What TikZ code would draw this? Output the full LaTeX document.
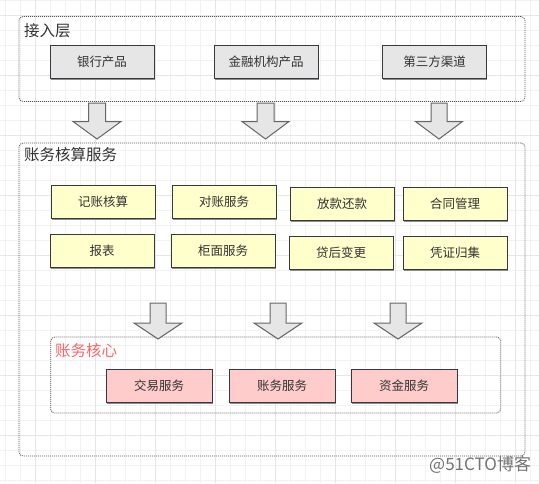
\documentclass[tikz,border=0pt]{standalone}
\usepackage{fontspec}
\setmainfont{Noto Sans CJK SC}
\usetikzlibrary{shadows}
\definecolor{gridminor}{HTML}{F2F2F2}
\definecolor{gridmajor}{HTML}{E6E6E6}
\definecolor{txt}{HTML}{333333}
\definecolor{bord}{HTML}{36393D}
\definecolor{grayfill}{HTML}{E6E6E6}
\definecolor{yellowfill}{HTML}{FFFFCC}
\definecolor{pinkfill}{HTML}{FFCCCC}
\definecolor{redtxt}{HTML}{FF6666}
\definecolor{arrbord}{HTML}{666666}
\definecolor{contbord}{HTML}{555555}
\tikzset{
  container/.style={draw=contbord, line width=0.8pt, dash pattern=on 1pt off 1pt, rounded corners=4pt, inner sep=0pt},
  boxbase/.style={draw=bord, line width=1pt, minimum width=104pt, minimum height=33pt, inner sep=0pt, font=\fontsize{12.5}{14}\selectfont, text=txt,
    drop shadow={shadow xshift=0.6pt, shadow yshift=-2pt, fill=black!45, opacity=1}},
  graybox/.style={boxbase, fill=grayfill},
  yellowbox/.style={boxbase, fill=yellowfill},
  pinkbox/.style={boxbase, fill=pinkfill, minimum width=106pt},
  title/.style={anchor=west, inner sep=0pt, font=\fontsize{15.5}{18}\selectfont, text=txt},
  blockarrow/.style={draw=arrbord, fill=grayfill, line width=1pt, line join=miter},
}
\newcommand\downblock[6]{% cx, top, headstart, tip, shaft half, head half
  \draw[blockarrow] ({#1-#5},#2) -- ({#1+#5},#2) -- ({#1+#5},#3) -- ({#1+#6},#3) -- (#1,#4) -- ({#1-#6},#3) -- ({#1-#5},#3) -- cycle;}
\begin{document}
\begin{tikzpicture}[x=1pt,y=-1pt]
\useasboundingbox (0,0) rectangle (539,483);
\fill[white] (0,0) rectangle (539,483);
% grid
\foreach \gx in {5,20,...,535} {\draw[gridminor, line width=0.8pt] (\gx,0) -- (\gx,483);}
\foreach \gy in {0,15,...,480} {\draw[gridminor, line width=0.8pt] (0,\gy) -- (539,\gy);}
\foreach \gx in {35,95,...,515} {\draw[gridmajor, line width=0.8pt] (\gx,0) -- (\gx,483);}
\foreach \gy in {15,75,...,480} {\draw[gridmajor, line width=0.8pt] (0,\gy) -- (539,\gy);}

% containers
\node[container, minimum width=506pt, minimum height=85pt] (access) at (272,59) {};
\node[container, minimum width=506pt, minimum height=313pt] (acct) at (272,299.5) {};
\node[container, minimum width=450pt, minimum height=76pt] (core) at (275.7,375) {};

\node[title] (accesstitle) at (24,30.5) {接入层};
\node[title] (accttitle) at (24,155) {账务核算服务};
\node[title, text=redtxt] (coretitle) at (55,351) {账务核心};

% access layer boxes
\node[graybox] (b1) at (102,61.5) {银行产品};
\node[graybox] (b2) at (266,61.5) {金融机构产品};
\node[graybox] (b3) at (434.5,61.5) {第三方渠道};

% arrows row 1
\downblock{97}{103}{121.5}{139}{8.5}{24}
\downblock{265.5}{103}{121.5}{139}{8.5}{23.5}
\downblock{439}{103}{121.5}{139}{8}{23.5}

% accounting service boxes
\node[yellowbox] (y1) at (103,201.5) {记账核算};
\node[yellowbox] (y2) at (224,201.5) {对账服务};
\node[yellowbox] (y3) at (342,203.5) {放款还款};
\node[yellowbox] (y4) at (455,203.5) {合同管理};
\node[yellowbox] (y5) at (102,250.5) {报表};
\node[yellowbox] (y6) at (223,250.5) {柜面服务};
\node[yellowbox] (y7) at (341,252.5) {贷后变更};
\node[yellowbox] (y8) at (455,252.5) {凭证归集};

% arrows row 2
\downblock{158}{303}{323}{339}{8}{24}
\downblock{278}{303}{323}{339}{8}{24}
\downblock{398}{303}{323}{339}{8}{24}

% core boxes
\node[pinkbox] (p1) at (159,385.5) {交易服务};
\node[pinkbox] (p2) at (282,385.5) {账务服务};
\node[pinkbox] (p3) at (404,385.5) {资金服务};

% watermark
\node[anchor=west, inner sep=0pt, text=black!55, font=\fontsize{17}{19}\selectfont] (wm) at (429,465) {@51CTO博客};
\end{tikzpicture}
\end{document}
